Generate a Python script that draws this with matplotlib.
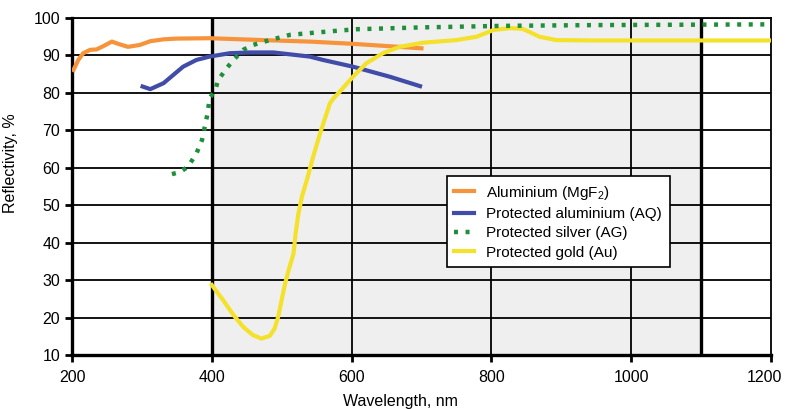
import numpy as np
import matplotlib
matplotlib.use("Agg")
import matplotlib.pyplot as plt
from matplotlib.transforms import ScaledTranslation

plt.rcParams['font.family'] = ['Liberation Sans', 'DejaVu Sans']
plt.rcParams['mathtext.fontset'] = 'custom'
plt.rcParams['mathtext.rm'] = 'Liberation Sans'
plt.rcParams['mathtext.it'] = 'Liberation Sans'

# Aluminium (MgF2)
al_x = [202, 209, 216, 226, 235, 245, 257, 266, 280, 297, 312, 331, 350, 397, 473, 540, 602, 700]
al_y = [86.1, 88.8, 90.6, 91.5, 91.6, 92.5, 93.7, 93.1, 92.3, 92.8, 93.8, 94.3, 94.5, 94.6, 94.1, 93.7, 93.1, 91.9]

# Protected aluminium (AQ)
aq_x = [301, 312, 331, 345, 359, 378, 397, 426, 455, 488, 521, 540, 559, 602, 655, 698]
aq_y = [81.7, 81.0, 82.6, 84.8, 87.0, 88.8, 89.7, 90.6, 90.8, 90.8, 90.1, 89.7, 88.8, 87.0, 84.3, 81.8]

# Protected silver (AG)
ag_x = [343, 355, 366, 378, 386, 390, 394, 397, 405, 409, 421, 431, 445, 459, 483, 512,
        536, 573, 607, 702, 817, 944, 1200]
ag_y = [58.3, 58.9, 60.3, 63.8, 67.4, 71.0, 74.5, 78.6, 80.8, 83.4, 86.5, 88.8, 91.5, 92.8, 94.1, 95.5,
        95.9, 96.5, 97.0, 97.5, 97.9, 98.1, 98.3]

# Protected gold (Au)
au_x = [400, 416, 431, 445, 459, 471, 483, 490, 495, 500, 505, 510, 517, 520, 524, 529, 536,
        545, 555, 569, 574, 583, 602, 621, 645, 669, 702, 750, 779, 803, 827, 845, 869, 893,
        944, 1200]
au_y = [28.7, 24.7, 20.7, 17.5, 15.3, 14.4, 15.1, 17.1, 20.2, 24.7, 29.1, 32.7, 37.1, 42.5, 47.8, 52.3, 56.7,
        62.9, 69.2, 77.2, 78.5, 80.3, 84.3, 87.9, 90.6, 92.3, 93.4, 94.1, 95.0, 96.8, 97.3, 97.1, 95.0, 94.1,
        94.0, 94.0]

x_ticks = [200, 400, 600, 800, 1000, 1200]
y_ticks = [10, 20, 30, 40, 50, 60, 70, 80, 90, 100]

fig = plt.figure(figsize=(7.87, 4.09), dpi=100)
ax = fig.add_axes([0.0915, 0.132, 0.888, 0.824])

# shaded band and its borders
ax.axvspan(400, 1100, color='#efefef', zorder=0)
for yv in y_ticks[1:]:
    ax.axhline(yv, color='black', lw=1.3, zorder=1)
for xv in [600, 800, 1000]:
    ax.axvline(xv, color='black', lw=1.3, zorder=1)
for xv in [400, 1100]:
    ax.axvline(xv, color='black', lw=2.4, zorder=1)

ax.plot(al_x, al_y, color='#f7943b', lw=3, label='Aluminium (MgF$_2$)', zorder=3,
        solid_joinstyle='round')
ax.plot(aq_x, aq_y, color='#404ca8', lw=3, label='Protected aluminium (AQ)', zorder=3,
        solid_joinstyle='round')
ax.plot(ag_x, ag_y, color='#1f8f3a', lw=3.2, linestyle=(0, (0.9, 1.7)),
        dash_capstyle='butt', label='Protected silver (AG)', zorder=4)
ax.plot(au_x, au_y, color='#f4e12b', lw=3, label='Protected gold (Au)', zorder=3,
        solid_joinstyle='round')

ax.set_xlim(200, 1200)
ax.set_ylim(10, 100)
ax.set_xticks(x_ticks)
ax.set_yticks(y_ticks)
ax.tick_params(axis='both', labelsize=11.5, width=2, length=5, colors='black')
ax.tick_params(axis='x', pad=6)

# nudge the last x label so it stays inside the figure
last = ax.get_xticklabels()[-1]
last.set_transform(last.get_transform() + ScaledTranslation(-0.06, 0, fig.dpi_scale_trans))

for side in ['left', 'bottom']:
    ax.spines[side].set_linewidth(2.4)
for side in ['top', 'right']:
    ax.spines[side].set_linewidth(1.3)

ax.set_xlabel('Wavelength, nm', fontsize=11.5)
ax.xaxis.set_label_coords(0.47, -0.115)
ax.set_ylabel('Reflectivity, %', fontsize=11.5)
ax.yaxis.set_label_coords(-0.077, 0.57)

leg = ax.legend(loc='upper left', bbox_to_anchor=(0.536, 0.531), borderaxespad=0,
                fontsize=11, frameon=True, fancybox=False, edgecolor='black', framealpha=1,
                handlelength=1.3, handletextpad=0.8, borderpad=0.5, labelspacing=0.35)
leg.get_frame().set_linewidth(1.2)
leg.set_zorder(5)

plt.savefig('out.png', dpi=100)
